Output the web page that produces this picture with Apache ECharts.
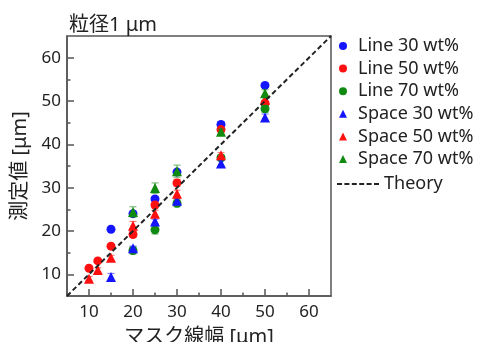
<!DOCTYPE html>
<html>
<head>
<meta charset="utf-8">
<script src="https://cdn.jsdelivr.net/npm/echarts@6/dist/echarts.min.js"></script>
<style>
  html, body { margin: 0; padding: 0; background: #fff; }
  #chart { width: 484px; height: 342px; }
</style>
</head>
<body>
<div id="chart"></div>
<script>
const xLine30 = [15, 20, 25, 30, 40, 50]
const yLine30 = [20.4, 24.0, 27.4, 33.6, 44.6, 53.6]
const eLine30 = [0.3, 0.4, 0.5, 0.5, 0.5, 0.4]

const xLine50 = [10, 12, 15, 20, 25, 30, 40, 50]
const yLine50 = [11.4, 13.1, 16.5, 19.2, 26.0, 31.1, 43.4, 49.5]
const eLine50 = [0.4, 0.4, 0.4, 0.6, 0.6, 0.8, 0.5, 0.6]

const xLine70 = [20, 25, 30, 40, 50]
const yLine70 = [15.5, 20.3, 26.4, 36.9, 48.2]
const eLine70 = [0.8, 1.0, 0.8, 0.5, 0.8]

const xSpace30 = [15, 20, 25, 30, 40, 50]
const ySpace30 = [9.4, 16.0, 22.2, 27.0, 35.6, 46.2]
const eSpace30 = [0.8, 0.5, 0.5, 0.5, 0.6, 0.8]

const xSpace50 = [10, 12, 15, 20, 25, 30, 40, 50]
const ySpace50 = [9.0, 11.0, 13.8, 21.2, 24.0, 28.6, 37.5, 50.3]
const eSpace50 = [0.5, 0.5, 0.6, 1.0, 0.8, 0.8, 0.6, 0.8]

const xSpace70 = [20, 25, 30, 40, 50]
const ySpace70 = [24.4, 29.9, 33.8, 42.9, 51.8]
const eSpace70 = [1.2, 1.2, 1.4, 0.6, 0.8]

const theoryX = [5, 65]
const majorTicks = [10, 20, 30, 40, 50, 60]
const minorTicks = [15, 25, 35, 45, 55]

const font = '"Noto Sans", "Noto Sans CJK JP", sans-serif'
const chart = echarts.init(document.getElementById('chart'))

const groups = [
  { name: 'Line 30 wt%', x: xLine30, y: yLine30, e: eLine30, color: '#1414ff', symbol: 'circle' },
  { name: 'Line 50 wt%', x: xLine50, y: yLine50, e: eLine50, color: '#ff1010', symbol: 'circle' },
  { name: 'Line 70 wt%', x: xLine70, y: yLine70, e: eLine70, color: '#108a10', symbol: 'circle' },
  { name: 'Space 30 wt%', x: xSpace30, y: ySpace30, e: eSpace30, color: '#1414ff', symbol: 'triangle' },
  { name: 'Space 50 wt%', x: xSpace50, y: ySpace50, e: eSpace50, color: '#ff1010', symbol: 'triangle' },
  { name: 'Space 70 wt%', x: xSpace70, y: ySpace70, e: eSpace70, color: '#108a10', symbol: 'triangle' }
]

// dashed line icon for the Theory legend entry
const dashIcon = 'path://M0,0h5v2h-5z M7.4,0h5v2h-5z M14.8,0h5v2h-5z M22.2,0h5v2h-5z M29.6,0h5v2h-5z M37,0h5v2h-5z'

const series = []
groups.forEach((g, i) => {
  //error bars
  series.push({
    type: 'custom',
    name: g.name + ' err',
    z: 2 + i,
    silent: true,
    itemStyle: { color: g.color },
    data: g.x.map((x, k) => [x, g.y[k] - g.e[k], g.y[k] + g.e[k]]),
    renderItem: function (params, api) {
      const lo = api.coord([api.value(0), api.value(1)])
      const hi = api.coord([api.value(0), api.value(2)])
      const w = 3.5
      const style = { stroke: g.color, lineWidth: 1.2, opacity: 0.55 }
      return {
        type: 'group',
        children: [
          { type: 'line', shape: { x1: lo[0], y1: lo[1], x2: hi[0], y2: hi[1] }, style: style },
          { type: 'line', shape: { x1: lo[0] - w, y1: lo[1], x2: lo[0] + w, y2: lo[1] }, style: style },
          { type: 'line', shape: { x1: hi[0] - w, y1: hi[1], x2: hi[0] + w, y2: hi[1] }, style: style }
        ]
      }
    }
  })
  series.push({
    type: 'scatter',
    name: g.name,
    z: 2 + i,
    symbol: g.symbol,
    symbolSize: g.symbol === 'circle' ? 9 : 10,
    itemStyle: { color: g.color, opacity: 1 },
    data: g.x.map((x, k) => [x, g.y[k]])
  })
})

series.push({
  type: 'line',
  name: 'Theory',
  z: 20,
  symbol: 'none',
  itemStyle: { color: '#222' },
  data: theoryX.map(v => [v, v]),
  lineStyle: { color: '#222', width: 2, type: [5, 3] }
})

chart.setOption({
  animation: false,
  title: {
    text: '粒径1 μm',
    left: 64,
    top: 9,
    textStyle: { fontFamily: font, fontSize: 20, fontWeight: 'normal', color: '#222', lineHeight: 22 }
  },
  legend: [
    {
      orient: 'vertical',
      left: 334,
      top: 32,
      itemWidth: 8,
      itemHeight: 8,
      itemGap: 4.6,
      data: groups.map(g => ({ name: g.name, icon: g.symbol })),
      textStyle: { fontFamily: font, fontSize: 18, color: '#222', lineHeight: 18, padding: [0, 0, 0, 6] }
    },
    {
      orient: 'vertical',
      left: 332,
      top: 170,
      itemWidth: 42,
      itemHeight: 2,
      itemGap: 3,
      data: [{ name: 'Theory', icon: dashIcon }],
      textStyle: { fontFamily: font, fontSize: 18, color: '#222', lineHeight: 18 }
    }
  ],
  grid: {
    left: 67,
    right: 153,
    top: 36,
    bottom: 46,
    outerBoundsMode: 'none',
    show: true,
    borderColor: '#555',
    borderWidth: 1.5
  },
  xAxis: [
    {
      type: 'value',
      min: 5,
      max: 65,
      name: 'マスク線幅 [μm]',
      nameLocation: 'middle',
      nameGap: 31,
      nameTextStyle: { fontFamily: font, fontSize: 20, color: '#222' },
      axisLine: { show: true, lineStyle: { color: '#555', width: 1.5 } },
      axisTick: { inside: true, length: 7, customValues: majorTicks, lineStyle: { color: '#555', width: 1.5 } },
      axisLabel: { customValues: majorTicks, margin: 8, fontFamily: font, fontSize: 17, color: '#222' },
      splitLine: { show: false }
    },
    {
      type: 'value',
      min: 5,
      max: 65,
      position: 'bottom',
      axisLine: { show: false },
      axisTick: { inside: true, length: 3.5, customValues: minorTicks, lineStyle: { color: '#555', width: 1.5 } },
      axisLabel: { show: false },
      splitLine: { show: false }
    }
  ],
  yAxis: [
    {
      type: 'value',
      min: 5,
      max: 65,
      name: '測定値 [μm]',
      nameLocation: 'middle',
      nameGap: 36,
      nameTextStyle: { fontFamily: font, fontSize: 20, color: '#222' },
      axisLine: { show: true, lineStyle: { color: '#555', width: 1.5 } },
      axisTick: { inside: true, length: 7, customValues: majorTicks, lineStyle: { color: '#555', width: 1.5 } },
      axisLabel: { customValues: majorTicks, margin: 6, fontFamily: font, fontSize: 17, color: '#222' },
      splitLine: { show: false }
    },
    {
      type: 'value',
      min: 5,
      max: 65,
      position: 'left',
      axisLine: { show: false },
      axisTick: { inside: true, length: 3.5, customValues: minorTicks, lineStyle: { color: '#555', width: 1.5 } },
      axisLabel: { show: false },
      splitLine: { show: false }
    }
  ],
  series: series
})
</script>
</body>
</html>
